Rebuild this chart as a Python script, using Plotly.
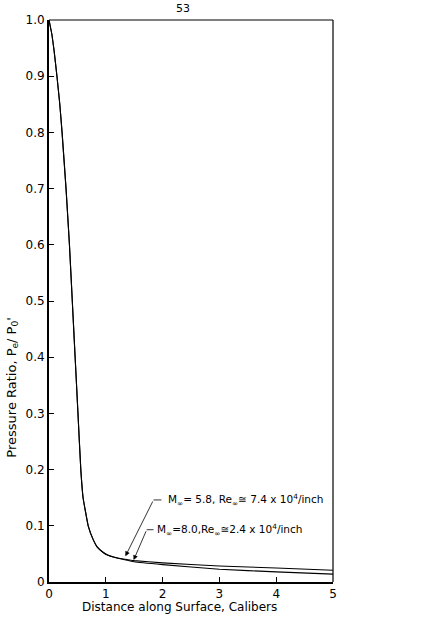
import plotly.graph_objects as go

# Common steep part (both conditions coincide)
x_common = [0.0, 0.02, 0.05, 0.09, 0.14, 0.19, 0.23, 0.30, 0.36, 0.41, 0.46, 0.51, 0.56, 0.60, 0.69, 0.78, 0.85, 0.95, 1.03, 1.15]
y_common = [1.0, 0.99, 0.975, 0.945, 0.90, 0.85, 0.80, 0.70, 0.60, 0.50, 0.40, 0.30, 0.20, 0.15, 0.10, 0.075, 0.062, 0.053, 0.048, 0.044]

# Tails
x_m58 = [1.31, 1.5, 2.0, 3.0, 4.0, 5.0]
y_m58 = [0.041, 0.038, 0.034, 0.0285, 0.025, 0.021]
x_m80 = [1.31, 1.5, 2.0, 3.0, 4.0, 5.0]
y_m80 = [0.040, 0.036, 0.031, 0.0226, 0.018, 0.014]

y_ticks = [0, 0.1, 0.2, 0.3, 0.4, 0.5, 0.6, 0.7, 0.8, 0.9, 1.0]
y_ticktext = ["0", "0.1", "0.2", "0.3", "0.4", "0.5", "0.6", "0.7", "0.8", "0.9", "1.0"]
x_ticks = [0, 1, 2, 3, 4, 5]

FONT = "DejaVu Sans"

fig = go.Figure()
fig.add_trace(go.Scatter(x=x_common + x_m58, y=y_common + y_m58, mode="lines",
                         line=dict(color="black", width=1.1, shape="spline", smoothing=0.3),
                         cliponaxis=False, showlegend=False))
fig.add_trace(go.Scatter(x=x_common + x_m80, y=y_common + y_m80, mode="lines",
                         line=dict(color="black", width=1.1, shape="spline", smoothing=0.3),
                         cliponaxis=False, showlegend=False))

fig.update_layout(
    width=437, height=627,
    margin=dict(l=49, r=104, t=20, b=45),
    paper_bgcolor="white", plot_bgcolor="white",
    font=dict(family=FONT, size=12, color="black"),
    xaxis=dict(range=[0, 5], tickvals=x_ticks, ticks="inside", ticklen=5, tickwidth=1,
               tickcolor="black", showgrid=False, zeroline=False, showline=True,
               linecolor="black", linewidth=2, tickfont=dict(size=12)),
    yaxis=dict(range=[0, 1.0], tickvals=y_ticks, ticktext=y_ticktext, ticks="inside",
               ticklen=5, tickwidth=1, tickcolor="black", showgrid=False, zeroline=False,
               showline=True, linecolor="black", linewidth=2, tickfont=dict(size=12)),
)

# top and right frame (thinner)
fig.add_shape(type="line", xref="paper", yref="paper", x0=0, x1=1, y0=1, y1=1,
              line=dict(color="black", width=1.2))
fig.add_shape(type="line", xref="paper", yref="paper", x0=1, x1=1, y0=0, y1=1,
              line=dict(color="black", width=1.2))

# page number
fig.add_annotation(text="53", xref="paper", yref="paper", x=0.472, y=1.0196,
                   xanchor="center", yanchor="middle", showarrow=False, font=dict(size=11))

# axis titles
fig.add_annotation(text="Pressure Ratio, P<sub>e</sub>/ P<sub>0</sub>'", xref="paper", yref="paper",
                   x=-0.130, y=0.346, xanchor="center", yanchor="middle", textangle=-90,
                   showarrow=False, font=dict(size=13))
fig.add_annotation(text="Distance along Surface, Calibers", xref="paper", yref="paper",
                   x=0.461, y=-0.0446, xanchor="center", yanchor="middle",
                   showarrow=False, font=dict(size=12))

# labels with arrows
fig.add_annotation(x=1.345, y=0.046, ax=1.84, ay=0.146, xref="x", yref="y", axref="x", ayref="y",
                   text="", showarrow=True, arrowhead=2, arrowsize=1.2, arrowwidth=0.8, arrowcolor="black")
fig.add_shape(type="line", x0=1.84, x1=1.98, y0=0.146, y1=0.146, line=dict(color="black", width=0.8))
fig.add_annotation(text="M<sub>∞</sub>= 5.8, Re<sub>∞</sub>≅ 7.4 x 10<sup>4</sup>/inch", x=2.06, y=0.146,
                   xanchor="left", showarrow=False, font=dict(size=10.5))

fig.add_annotation(x=1.49, y=0.039, ax=1.72, ay=0.093, xref="x", yref="y", axref="x", ayref="y",
                   text="", showarrow=True, arrowhead=2, arrowsize=1.2, arrowwidth=0.8, arrowcolor="black")
fig.add_shape(type="line", x0=1.72, x1=1.84, y0=0.093, y1=0.093, line=dict(color="black", width=0.8))
fig.add_annotation(text="M<sub>∞</sub>=8.0,Re<sub>∞</sub>≅2.4 x 10<sup>4</sup>/inch", x=1.86, y=0.093,
                   xanchor="left", showarrow=False, font=dict(size=10.5))

fig.write_html("out.html")
